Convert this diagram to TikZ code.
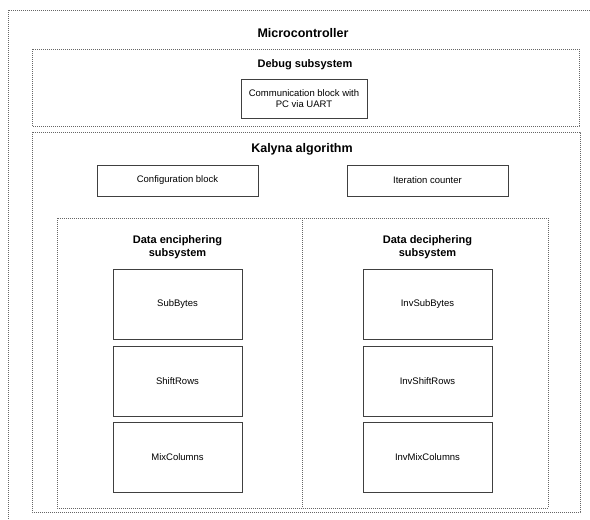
\documentclass[tikz,border=0pt]{standalone}
\usepackage{fontspec}
\setmainfont{Liberation Sans}

\tikzset{
  frame/.style={draw=black!60,line width=0.8pt,dash pattern=on 0.8pt off 1.2pt},
  block/.style={draw=black!75,line width=1pt,fill=white,align=center,
    font=\fontsize{9.5}{11.5}\selectfont},
  title/.style={font=\bfseries\fontsize{11}{13}\selectfont,align=center},
  bigtitle/.style={font=\bfseries\fontsize{12.5}{14}\selectfont}
}

\begin{document}
\begin{tikzpicture}[x=1pt,y=-1pt]
    \useasboundingbox (0,0) rectangle (590,520);
    \clip (0,0) rectangle (590,520);

    % Microcontroller
    \draw[frame] (8,10) rectangle (598,530);
    \node[bigtitle] (mcu) at (303,33) {Microcontroller};

    % Debug subsystem
    \draw[frame] (32,49) rectangle (579,126);
    \node[title] (debug) at (305,65) {Debug subsystem};
    \node[block,minimum width=126pt,minimum height=39pt] (uart) at (304,98.5)
        {Communication block with\\PC via UART};

    % Kalyna algorithm
    \draw[frame] (32,132) rectangle (580,512);
    \node[bigtitle] (kalyna) at (302,149) {Kalyna algorithm};
    \node[block,minimum width=161pt,minimum height=31pt] (config) at (177.5,180.5)
        {Configuration block};
    \node[block,minimum width=161pt,minimum height=31pt] (counter) at (427.5,180.5)
        {Iteration counter};

    % Data subsystems
    \draw[frame] (57,218) rectangle (548,508);
    \draw[frame] (302.5,218) -- (302.5,508);
    \node[title] (enc) at (177.5,247.5) {Data enciphering\\subsystem};
    \node[title] (dec) at (427.5,247.5) {Data deciphering\\subsystem};

    % Round blocks
    \foreach \n/\y/\t in {sub/304/SubBytes, shift/381.5/ShiftRows, mix/457/MixColumns} {
        \node[block,minimum width=129pt,minimum height=70pt] (\n) at (177.5,\y) {\t};
        \node[block,minimum width=129pt,minimum height=70pt] (inv\n) at (427.5,\y) {Inv\t};
    }
\end{tikzpicture}
\end{document}
